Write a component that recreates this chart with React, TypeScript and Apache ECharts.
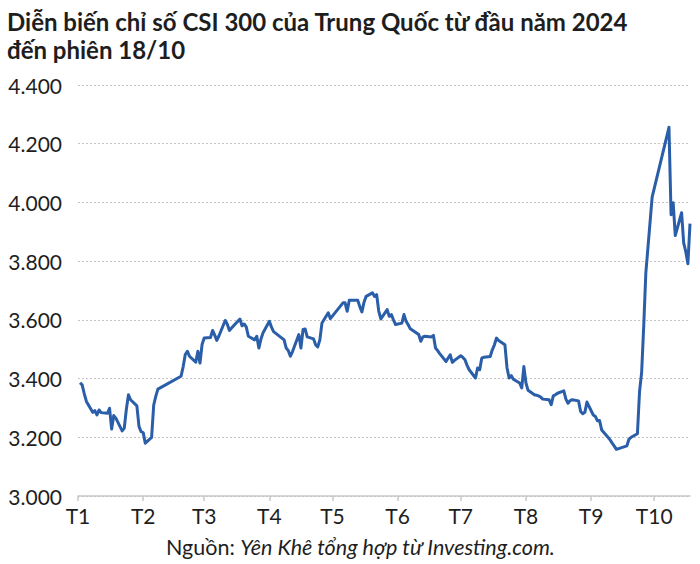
import React, { useEffect, useRef } from "react";
import * as echarts from "echarts";

const titleText = "Diễn biến chỉ số CSI 300 của Trung Quốc từ đầu năm 2024\nđến phiên 18/10";
const sourceLabel = "Nguồn: ";
const sourceText = "Yên Khê tổng hợp từ Investing.com.";

const yTicks = [3000, 3200, 3400, 3600, 3800, 4000, 4200, 4400];

const dates: string[] = [
  "01-02","01-03","01-04","01-05","01-08","01-09","01-10","01-11","01-12","01-15","01-16","01-17","01-18","01-19",
  "01-22","01-23","01-24","01-25","01-26","01-29","01-30","01-31","02-01","02-02","02-05","02-06","02-07","02-08",
  "02-19","02-20","02-21","02-22","02-23","02-26","02-27","02-28","02-29",
  "03-01","03-04","03-05","03-06","03-07","03-08","03-11","03-12","03-13","03-14","03-15","03-18","03-19","03-20",
  "03-21","03-22","03-25","03-26","03-27","03-28","03-29",
  "04-01","04-02","04-03","04-08","04-09","04-10","04-11","04-12","04-15","04-16","04-17","04-18","04-19",
  "04-22","04-23","04-24","04-25","04-26","04-29","04-30",
  "05-06","05-07","05-08","05-09","05-10","05-13","05-14","05-15","05-16","05-17","05-20","05-21","05-22","05-23",
  "05-24","05-27","05-28","05-29","05-30","05-31",
  "06-03","06-04","06-05","06-06","06-07","06-11","06-12","06-13","06-14","06-17","06-18","06-19","06-20","06-21",
  "06-24","06-25","06-26","06-27","06-28",
  "07-01","07-02","07-03","07-04","07-05","07-08","07-09","07-10","07-11","07-12","07-15","07-16","07-17","07-18",
  "07-19","07-22","07-23","07-24","07-25","07-26","07-29","07-30","07-31",
  "08-01","08-02","08-05","08-06","08-07","08-08","08-09","08-12","08-13","08-14","08-15","08-16","08-19","08-20",
  "08-21","08-22","08-23","08-26","08-27","08-28","08-29","08-30",
  "09-02","09-03","09-04","09-05","09-06","09-09","09-10","09-11","09-12","09-13","09-18","09-19","09-20","09-23",
  "09-24","09-25","09-26","09-27","09-30",
  "10-08","10-09","10-10","10-11","10-14","10-15","10-16","10-17","10-18",
];

const values: number[] = [
  3386,3378,3348,3322,3285,3291,3276,3293,3284,3282,3299,3228,3274,3265,
  3222,3231,3296,3345,3328,3307,3237,3219,3216,3180,3200,3310,3340,3364,
  3408,3440,3482,3493,3476,3456,3493,3453,3516,
  3538,3540,3564,3548,3530,3545,3598,3585,3564,3572,3580,3603,3580,3586,
  3576,3544,3532,3544,3504,3535,3556,
  3595,3575,3560,3532,3504,3495,3476,3492,3550,3504,3567,3569,3542,
  3535,3515,3508,3532,3589,3624,3604,
  3658,3658,3629,3667,3667,3667,3645,3627,3660,3680,3692,3680,3686,3630,
  3603,3635,3612,3618,3600,3584,
  3589,3618,3595,3583,3570,3550,3527,3542,3544,3542,3547,3504,3495,3485,
  3458,3470,3481,3455,3462,
  3478,3472,3464,3445,3430,3402,3436,3430,3470,3473,3475,3498,3515,3538,
  3530,3515,3436,3402,3410,3398,3385,3368,3441,
  3385,3360,3345,3343,3341,3337,3330,3328,3311,3341,3345,3350,3358,3330,
  3316,3325,3328,3324,3288,3280,3285,3320,
  3276,3271,3256,3257,3225,3200,3191,3180,3170,3159,3171,3194,3200,3212,
  3355,3420,3580,3760,4018,
  4256,3958,3999,3887,3965,3862,3832,3791,3928,
];

const YEAR = 2024;
const START = Date.UTC(YEAR, 0, 1);
const END = Date.UTC(YEAR, 9, 18);
const DAY = 86400000;

function pad(n: number) {
  return n < 10 ? "0" + n : "" + n;
}

const FONT = "Lato, 'Noto Sans', sans-serif";

export default function App() {
  const ref = useRef<HTMLDivElement>(null);

  useEffect(() => {
    if (!ref.current) return;
    const chart = echarts.init(ref.current, null, { renderer: "svg" });

    const calendar: string[] = [];
    for (let t = START; t <= END; t += DAY) {
      const d = new Date(t);
      calendar.push(pad(d.getUTCMonth() + 1) + "-" + pad(d.getUTCDate()));
    }
    const seriesData = dates.map((md, i) => {
      const [m, d] = md.split("-").map(Number);
      const idx = Math.round((Date.UTC(YEAR, m - 1, d) - START) / DAY);
      return [idx, values[i]];
    });
    const isMonthStart = (_i: number, v: string) => v.endsWith("-01");

    chart.setOption({
      animation: false,
      backgroundColor: "#ffffff",
      textStyle: { fontFamily: FONT },
      title: {
        text: titleText,
        left: 2,
        top: 2,
        textStyle: {
          fontFamily: FONT,
          fontSize: 24,
          fontWeight: "bold",
          lineHeight: 28,
          color: "#1e1e1e",
        },
      },
      grid: { left: 78, right: 10, top: 85, bottom: 68, containLabel: false },
      xAxis: {
        type: "category",
        data: calendar,
        boundaryGap: false,
        axisLine: { show: true, lineStyle: { color: "#c8c8c8", width: 1.5 } },
        axisTick: { show: true, interval: isMonthStart, length: 5, lineStyle: { color: "#c8c8c8", width: 1.5 } },
        axisLabel: {
          show: true,
          interval: isMonthStart,
          formatter: (v: string) => "T" + Number(v.slice(0, 2)),
          fontSize: 21,
          color: "#1e1e1e",
          margin: 9,
          fontFamily: FONT,
        },
        splitLine: { show: false },
      },
      yAxis: {
        type: "value",
        min: yTicks[0],
        max: yTicks[yTicks.length - 1],
        interval: 200,
        axisLine: { show: false },
        axisTick: { show: false },
        axisLabel: {
          formatter: (v: number) => (v / 1000).toFixed(3),
          fontSize: 21,
          color: "#1e1e1e",
          margin: 16,
          fontFamily: FONT,
        },
        splitLine: { show: true, lineStyle: { color: "#c4c4c4", type: [2, 2], width: 1 } },
      },
      series: [
        {
          type: "line",
          data: seriesData,
          showSymbol: false,
          symbol: "none",
          lineStyle: { color: "#2a5ea8", width: 3, join: "round" },
          itemStyle: { color: "#2a5ea8" },
        },
      ],
      graphic: [
        {
          type: "text",
          left: 166,
          top: 536,
          style: {
            text: "{a|" + sourceLabel + "}{b|" + sourceText + "}",
            rich: {
              a: { fontSize: 21.5, fontFamily: FONT, fill: "#1e1e1e" },
              b: { fontSize: 21.5, fontStyle: "italic", fontFamily: FONT, fill: "#1e1e1e" },
            },
          },
        },
      ],
    });

    return () => chart.dispose();
  }, []);

  return (
    <div
      ref={ref}
      style={{ position: "fixed", left: 0, top: 0, width: 700, height: 564, background: "#fff" }}
    />
  );
}
